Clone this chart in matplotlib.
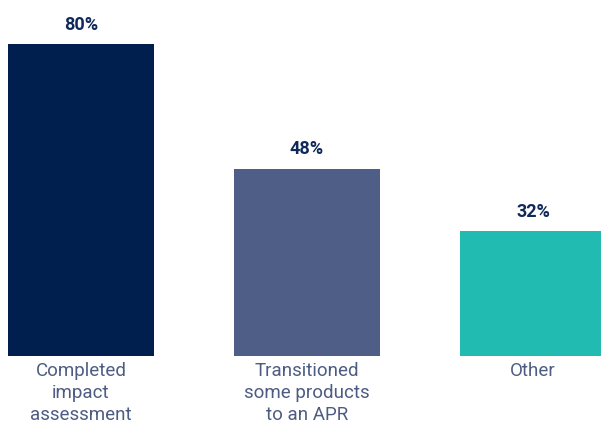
import matplotlib.pyplot as plt

# chart data
categories = ["Completed\nimpact\nassessment", "Transitioned\nsome products\nto an APR", "Other"]
values = [80, 48, 32]
colors = ["#001f4e", "#4f5e86", "#22bbb2"]

fig = plt.figure(figsize=(6.01, 4.23), dpi=100)
ax = fig.add_axes([0, 67 / 423, 1, 356 / 423])

x = list(range(len(values)))
ax.bar(x, values, width=0.646, color=colors)

ax.set_xlim(-81 / 226, (601 - 81) / 226)
ax.set_ylim(0, 356 / 3.9)
ax.axis("off")

for xi, v in zip(x, values):
    ax.annotate(f"{v}%", xy=(xi, v), xytext=(0, 7.5), textcoords="offset points",
                ha="center", va="bottom", fontsize=13, fontweight="bold",
                color="#0f2a5a", family="Roboto")

for xi, lab in zip(x, categories):
    ax.annotate(lab, xy=(xi, 0), xytext=(0, -4), textcoords="offset points",
                ha="center", va="top", fontsize=13.5, color="#4d5c82",
                family="Roboto", linespacing=1.3)

fig.savefig("out.png", dpi=100, facecolor="white")
